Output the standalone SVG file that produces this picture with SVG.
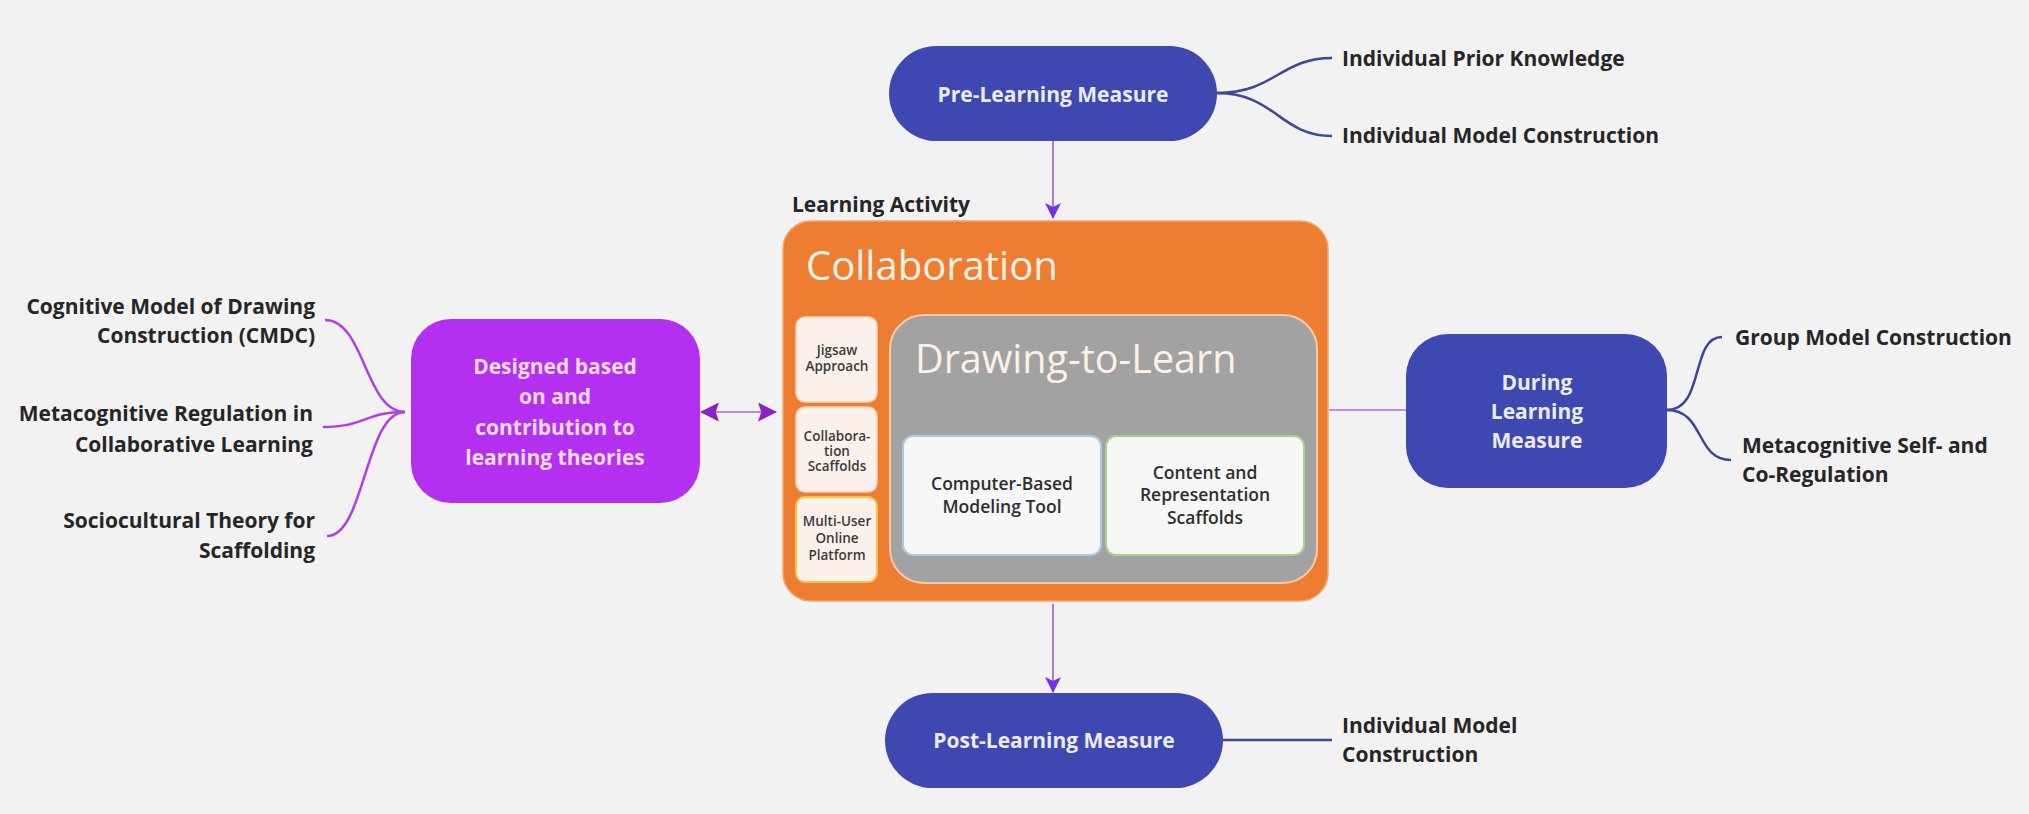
<svg xmlns="http://www.w3.org/2000/svg" width="2029" height="814" viewBox="0 0 2029 814">
<defs>
<style>
.lbl{font-family:"Open Sans","Liberation Sans",sans-serif;font-weight:700;font-size:21px;fill:#262626}
.wt{font-family:"Open Sans","Liberation Sans",sans-serif;font-weight:700;font-size:21px;fill:#ebebf4;text-anchor:middle}
.pk{font-family:"Open Sans","Liberation Sans",sans-serif;font-weight:700;font-size:21px;fill:#f6dcf8;text-anchor:middle}
.sm{font-family:"Open Sans","Liberation Sans",sans-serif;font-weight:600;font-size:13.5px;fill:#3a3a3a;text-anchor:middle}
.md{font-family:"Open Sans","Liberation Sans",sans-serif;font-weight:600;font-size:17.5px;fill:#2e2e2e;text-anchor:middle}
.big{font-family:"Open Sans","Liberation Sans",sans-serif;font-weight:400;fill:#fbf1e4}
.pill{fill:#3f48b1}
.lc{fill:none;stroke:#b23ee4;stroke-width:2.5}
.rc{fill:none;stroke:#3d4796;stroke-width:2.5}
.ar{fill:none;stroke:#a46ae0;stroke-width:1.8}
</style>
<marker id="ah" viewBox="0 0 16 16" refX="15" refY="8" markerWidth="16" markerHeight="16" markerUnits="userSpaceOnUse" orient="auto">
<path d="M0,0 L16,8 L0,16 L4,8 z" fill="#7a2fe3"/>
</marker>
<marker id="dh" viewBox="0 0 18 18" refX="17" refY="9" markerWidth="19" markerHeight="19" markerUnits="userSpaceOnUse" orient="auto-start-reverse">
<path d="M0,0 L18,9 L0,18 L3,9 z" fill="#8a22bd"/>
</marker>
</defs>
<rect x="0" y="0" width="2029" height="814" fill="#f2f2f2"/>

<g id="connectors">
<path class="lc" d="M405,412 C365,412 365,320 325,320"/>
<path class="lc" d="M405,412 C365,412 365,427 323,427"/>
<path class="lc" d="M405,412 C365,412 365,536 327,536"/>
<path class="rc" d="M1217,93 C1275,93 1280,58 1332,58"/>
<path class="rc" d="M1217,93 C1275,93 1280,136 1332,136"/>
<path class="rc" d="M1667,410 C1705,410 1690,337 1722,337"/>
<path class="rc" d="M1667,410 C1705,410 1695,460 1731,460"/>
<line class="rc" x1="1223" y1="740" x2="1332" y2="740"/>
<line class="ar" x1="1053" y1="141" x2="1053" y2="218" marker-end="url(#ah)"/>
<line class="ar" x1="1053" y1="604" x2="1053" y2="692" marker-end="url(#ah)"/>
<line x1="701" y1="412" x2="776" y2="412" stroke="#b98ae0" stroke-width="2" marker-start="url(#dh)" marker-end="url(#dh)"/>
<line x1="1329" y1="410" x2="1406" y2="410" stroke="#c48ce2" stroke-width="2"/>
</g>

<g id="theory-labels">
<text class="lbl" text-anchor="end" x="315" y="314">Cognitive Model of Drawing</text>
<text class="lbl" text-anchor="end" x="315" y="343">Construction (CMDC)</text>
<text class="lbl" text-anchor="end" x="313" y="421">Metacognitive Regulation in</text>
<text class="lbl" text-anchor="end" x="313" y="452">Collaborative Learning</text>
<text class="lbl" text-anchor="end" x="315" y="528">Sociocultural Theory for</text>
<text class="lbl" text-anchor="end" x="315" y="558">Scaffolding</text>
</g>

<g id="designed">
<rect x="411" y="319" width="289" height="184" rx="40" fill="#b330f0"/>
<text class="pk" x="555" y="374">Designed based</text>
<text class="pk" x="555" y="404">on and</text>
<text class="pk" x="555" y="435">contribution to</text>
<text class="pk" x="555" y="465">learning theories</text>
</g>

<g id="pre">
<rect class="pill" x="889" y="46" width="328" height="95" rx="47.5"/>
<text class="wt" x="1053" y="102">Pre-Learning Measure</text>
</g>
<g id="pre-labels">
<text class="lbl" x="1342" y="66">Individual Prior Knowledge</text>
<text class="lbl" x="1342" y="143">Individual Model Construction</text>
</g>

<g id="learning-activity">
<text class="lbl" x="792" y="212">Learning Activity</text>
<rect x="783" y="221" width="545" height="380" rx="28" fill="#ed7d31" stroke="#f4a56d" stroke-width="1.5"/>
<text class="big" x="806" y="280" font-size="40">Collaboration</text>
</g>

<g id="jigsaw">
<rect x="796" y="317" width="81" height="85" rx="9" fill="#fcf1ea" stroke="#f8d2b6" stroke-width="1.5"/>
<text class="sm" x="837" y="355">Jigsaw</text>
<text class="sm" x="837" y="371">Approach</text>
</g>
<g id="collab-scaffolds">
<rect x="796" y="407" width="81" height="85" rx="9" fill="#fcf1ea" stroke="#f8d2b6" stroke-width="1.5"/>
<text class="sm" x="837" y="441">Collabora-</text>
<text class="sm" x="837" y="456">tion</text>
<text class="sm" x="837" y="471">Scaffolds</text>
</g>
<g id="multi-user">
<rect x="796" y="497" width="81" height="85" rx="9" fill="#fcf1ea" stroke="#fbc343" stroke-width="1.8"/>
<text class="sm" x="837" y="526">Multi-User</text>
<text class="sm" x="837" y="543">Online</text>
<text class="sm" x="837" y="560">Platform</text>
</g>

<g id="drawing-to-learn">
<rect x="890" y="315" width="427" height="268" rx="34" fill="#a2a2a2" stroke="#f5cba8" stroke-width="2"/>
<text class="big" x="915" y="373" font-size="39.5">Drawing-to-Learn</text>
</g>
<g id="modeling-tool">
<rect x="903" y="436" width="198" height="119" rx="10" fill="#f7f7f8" stroke="#a8c8ec" stroke-width="2"/>
<text class="md" x="1002" y="490">Computer-Based</text>
<text class="md" x="1002" y="513">Modeling Tool</text>
</g>
<g id="rep-scaffolds">
<rect x="1106" y="436" width="198" height="119" rx="10" fill="#f7f7f6" stroke="#a9d18e" stroke-width="2"/>
<text class="md" x="1205" y="479">Content and</text>
<text class="md" x="1205" y="501">Representation</text>
<text class="md" x="1205" y="524">Scaffolds</text>
</g>

<g id="during">
<rect class="pill" x="1406" y="334" width="261" height="154" rx="42"/>
<text class="wt" x="1537" y="390">During</text>
<text class="wt" x="1537" y="419">Learning</text>
<text class="wt" x="1537" y="448">Measure</text>
</g>
<g id="during-labels">
<text class="lbl" x="1735" y="345">Group Model Construction</text>
<text class="lbl" x="1742" y="453">Metacognitive Self- and</text>
<text class="lbl" x="1742" y="482">Co-Regulation</text>
</g>

<g id="post">
<rect class="pill" x="885" y="693" width="338" height="95" rx="47.5"/>
<text class="wt" x="1054" y="748">Post-Learning Measure</text>
</g>
<g id="post-labels">
<text class="lbl" x="1342" y="733">Individual Model</text>
<text class="lbl" x="1342" y="762">Construction</text>
</g>
</svg>
